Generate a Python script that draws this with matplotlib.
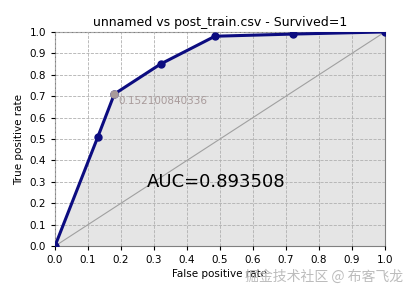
import matplotlib.pyplot as plt

plt.rcParams['font.family'] = ['DejaVu Sans', 'Noto Sans CJK SC']

fpr = [0.0, 0.13, 0.18, 0.32, 0.485, 0.72, 1.0]
tpr = [0.0, 0.51, 0.71, 0.85, 0.98, 0.99, 1.0]
thr_idx = 2
thr_label = "0.152100840336"
auc = 0.893508
ticks = [0.0, 0.1, 0.2, 0.3, 0.4, 0.5, 0.6, 0.7, 0.8, 0.9, 1.0]

fig = plt.figure(figsize=(4.13, 2.93), dpi=100)
ax = fig.add_axes([0.133, 0.160, 0.799, 0.731])

ax.fill_between(fpr, tpr, 0, color="#e5e5e5", zorder=1)
ax.grid(True, color="#b0b0b0", linestyle="--", linewidth=0.6, zorder=2)
ax.set_axisbelow(False)
ax.plot([0, 1], [0, 1], color="#a0a0a0", linewidth=0.8, zorder=3)
ax.plot(fpr, tpr, color="#0c0c80", linewidth=2.2, marker="o", markersize=5, zorder=4)
ax.plot([fpr[thr_idx]], [tpr[thr_idx]], "o", color="#a89a9a", markersize=5, zorder=5)
ax.annotate(thr_label, (fpr[thr_idx], tpr[thr_idx]), xytext=(3, -7),
            textcoords="offset points", color="#a89a9a", fontsize=7.5)
ax.text(0.49, 0.30, "AUC=%f" % auc, fontsize=13, ha="center", va="center", zorder=6)

ax.set_xlim(0, 1)
ax.set_ylim(0, 1)
ax.set_xticks(ticks)
ax.set_yticks(ticks)
ax.tick_params(labelsize=7.5, length=3)
for s in ax.spines.values():
    s.set_color("#808080")
ax.set_xlabel("False positive rate", fontsize=7.5, labelpad=3)
ax.set_ylabel("True positive rate", fontsize=7.5)
ax.set_title("unnamed vs post_train.csv - Survived=1", fontsize=9, pad=4)

fig.text(0.975, 0.03, "掘金技术社区 @ 布客飞龙", color="#bcbcbc", fontsize=10,
         ha="right", va="bottom", family=['Noto Sans CJK SC', 'DejaVu Sans'])

fig.savefig("out.png", dpi=100)
